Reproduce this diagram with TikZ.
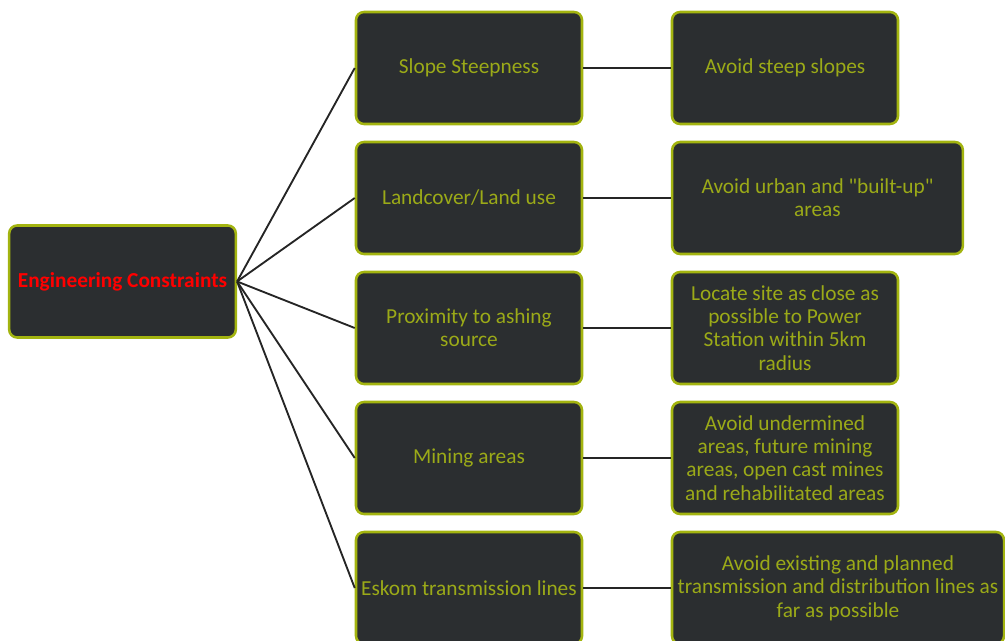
\documentclass[tikz,border=0pt]{standalone}
\usepackage{fontspec}
\setmainfont{Carlito}[Ligatures=TeXOff]
\definecolor{boxfill}{HTML}{2B2E30}
\definecolor{boxline}{HTML}{A3B410}
\definecolor{boxtext}{HTML}{9BAA18}
\definecolor{linkcol}{HTML}{252525}
\begin{document}
\begin{tikzpicture}[x=0.75pt,y=-0.75pt,
  cbox/.style={draw=boxline,line width=1.9pt,fill=boxfill,rounded corners=6pt,
    minimum height=84pt,align=center,inner sep=1pt,text=boxtext,
    font=\fontsize{16}{17.5}\selectfont},
  link/.style={draw=linkcol,line width=1.4pt}]
\useasboundingbox (0,0) rectangle (1005,641);
\node[cbox,minimum width=170pt,text=red,font=\fontsize{16}{17.5}\selectfont\bfseries] (root) at (122.5,281.5) {Engineering Constraints};
\node[cbox,minimum width=169.5pt] (m1) at (469,68) {Slope Steepness};
\node[cbox,minimum width=169.5pt] (m2) at (469,198) {Landcover/Land use};
\node[cbox,minimum width=169.5pt] (m3) at (469,328) {Proximity to ashing\\source};
\node[cbox,minimum width=169.5pt] (m4) at (469,458) {Mining areas};
\node[cbox,minimum width=169.5pt] (m5) at (469,588) {Eskom transmission lines};
\node[cbox,minimum width=169.5pt] (r1) at (785,68) {Avoid steep slopes};
\node[cbox,minimum width=218pt] (r2) at (817.5,198) {Avoid urban and "built-up"\\areas};
\node[cbox,minimum width=169.5pt] (r3) at (785,328) {Locate site as close as\\possible to Power\\Station within 5km\\radius};
\node[cbox,minimum width=169.5pt] (r4) at (785,458) {Avoid undermined\\areas, future mining\\areas, open cast mines\\and rehabilitated areas};
\node[cbox,minimum width=249pt] (r5) at (838,588) {Avoid existing and planned\\transmission and distribution lines as\\far as possible};
\foreach \i in {1,...,5}{
  \draw[link] (root.east) -- (m\i.west);
  \draw[link] (m\i.east) -- (r\i.west);
}
\end{tikzpicture}
\end{document}
